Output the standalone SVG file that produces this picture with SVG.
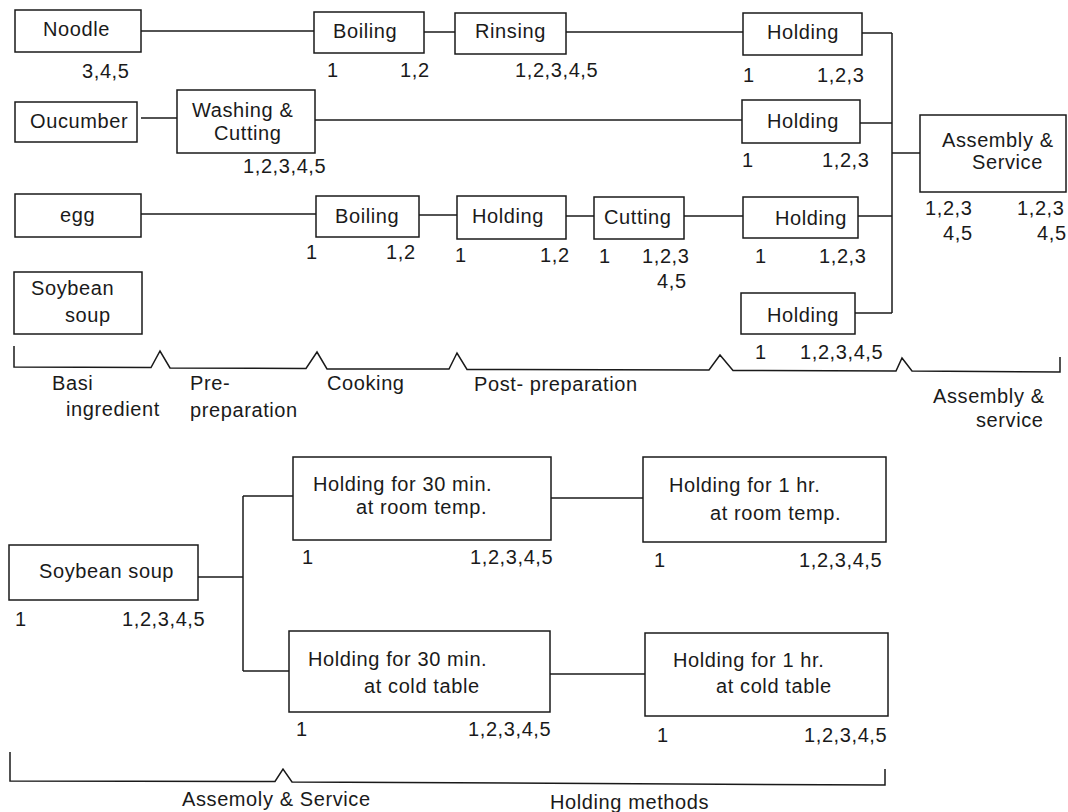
<svg xmlns="http://www.w3.org/2000/svg" width="1068" height="812" viewBox="0 0 1068 812">
<style>
  .box { fill: #ffffff; stroke: #1a1a1a; stroke-width: 1.5; }
  .c { fill: none; stroke: #1a1a1a; stroke-width: 1.5; }
  text { font-family: "Liberation Sans", Arial, Helvetica, sans-serif; font-size: 20px; fill: #1a1a1a; letter-spacing: 0.6px; }
</style>
<rect width="1068" height="812" fill="#ffffff"/>

<g id="connectors">
  <path class="c" d="M141,31 H314"/>
  <path class="c" d="M424,32 H455"/>
  <path class="c" d="M566,32 H743"/>
  <path class="c" d="M862,33 H892"/>
  <path class="c" d="M141,118 H177"/>
  <path class="c" d="M315,120 H742"/>
  <path class="c" d="M860,123 H892"/>
  <path class="c" d="M892,153 H920"/>
  <path class="c" d="M141,214 H316"/>
  <path class="c" d="M419,215 H457"/>
  <path class="c" d="M566,216 H594"/>
  <path class="c" d="M684,216 H743"/>
  <path class="c" d="M858,216 H892"/>
  <path class="c" d="M855,313 H892"/>
  <path class="c" d="M892,33 V313"/>
  <path class="c" d="M198,577 H243"/>
  <path class="c" d="M243,496 V671"/>
  <path class="c" d="M243,496 H293"/>
  <path class="c" d="M243,671 H289"/>
  <path class="c" d="M551,498 H643"/>
  <path class="c" d="M550,674 H645"/>
</g>

<g id="n-noodle">
  <rect class="box" x="15" y="10" width="126" height="42"/>
  <text x="43" y="36">Noodle</text>
  <text x="82" y="78">3,4,5</text>
</g>
<g id="n-boiling-noodle">
  <rect class="box" x="314" y="12" width="110" height="41"/>
  <text x="333" y="38">Boiling</text>
  <text x="327" y="77">1</text>
  <text x="400" y="77">1,2</text>
</g>
<g id="n-rinsing">
  <rect class="box" x="455" y="13" width="111" height="41"/>
  <text x="475" y="38">Rinsing</text>
  <text x="515" y="77">1,2,3,4,5</text>
</g>
<g id="n-holding-noodle">
  <rect class="box" x="743" y="13" width="119" height="42"/>
  <text x="767" y="39">Holding</text>
  <text x="743" y="82">1</text>
  <text x="817" y="82">1,2,3</text>
</g>
<g id="n-cucumber">
  <rect class="box" x="15" y="102" width="122" height="40"/>
  <text x="30" y="128">Oucumber</text>
</g>
<g id="n-washing">
  <rect class="box" x="177" y="90" width="138" height="63"/>
  <text x="192" y="117">Washing &amp;</text>
  <text x="214" y="140">Cutting</text>
  <text x="243" y="173">1,2,3,4,5</text>
</g>
<g id="n-holding-cucumber">
  <rect class="box" x="742" y="100" width="118" height="43"/>
  <text x="767" y="128">Holding</text>
  <text x="742" y="167">1</text>
  <text x="822" y="167">1,2,3</text>
</g>
<g id="n-assembly">
  <rect class="box" x="920" y="115" width="146" height="77"/>
  <text x="942" y="147">Assembly &amp;</text>
  <text x="972" y="169">Service</text>
  <text x="925" y="215">1,2,3</text>
  <text x="943" y="240">4,5</text>
  <text x="1017" y="215">1,2,3</text>
  <text x="1037" y="240">4,5</text>
</g>
<g id="n-egg">
  <rect class="box" x="15" y="194" width="126" height="43"/>
  <text x="60" y="222">egg</text>
</g>
<g id="n-boiling-egg">
  <rect class="box" x="316" y="196" width="103" height="41"/>
  <text x="335" y="223">Boiling</text>
  <text x="306" y="259">1</text>
  <text x="386" y="259">1,2</text>
</g>
<g id="n-holding-egg1">
  <rect class="box" x="457" y="196" width="109" height="43"/>
  <text x="472" y="223">Holding</text>
  <text x="455" y="262">1</text>
  <text x="540" y="262">1,2</text>
</g>
<g id="n-cutting-egg">
  <rect class="box" x="594" y="197" width="90" height="42"/>
  <text x="604" y="224">Cutting</text>
  <text x="599" y="263">1</text>
  <text x="642" y="263">1,2,3</text>
  <text x="657" y="288">4,5</text>
</g>
<g id="n-holding-egg2">
  <rect class="box" x="743" y="197" width="115" height="41"/>
  <text x="775" y="225">Holding</text>
  <text x="755" y="263">1</text>
  <text x="819" y="263">1,2,3</text>
</g>
<g id="n-soup">
  <rect class="box" x="14" y="272" width="128" height="62"/>
  <text x="31" y="295">Soybean</text>
  <text x="65" y="322">soup</text>
</g>
<g id="n-holding-soup">
  <rect class="box" x="741" y="293" width="114" height="41"/>
  <text x="767" y="322">Holding</text>
  <text x="755" y="359">1</text>
  <text x="800" y="359">1,2,3,4,5</text>
</g>

<g id="stages-top">
  <path class="c" d="M14,346 V367 L151,367.5 L160,351 L170,368 L306,368.5 L317,352 L327,369 L449,369 L457,353 L467,369.5 L709,370 L720,355 L733,370.5 L896,371 L902,358 L912,371 L1060,372 V357"/>
  <text x="52" y="390">Basi</text>
  <text x="66" y="416">ingredient</text>
  <text x="190" y="390">Pre-</text>
  <text x="190" y="417">preparation</text>
  <text x="327" y="390">Cooking</text>
  <text x="474" y="391">Post- preparation</text>
  <text x="933" y="403">Assembly &amp;</text>
  <text x="976" y="427">service</text>
</g>

<g id="n-soup2">
  <rect class="box" x="9" y="545" width="189" height="55"/>
  <text x="39" y="578">Soybean soup</text>
  <text x="15" y="626">1</text>
  <text x="122" y="626">1,2,3,4,5</text>
</g>
<g id="n-hold30-room">
  <rect class="box" x="293" y="457" width="258" height="83"/>
  <text x="313" y="491">Holding for 30 min.</text>
  <text x="356" y="514">at room temp.</text>
  <text x="302" y="564">1</text>
  <text x="470" y="564">1,2,3,4,5</text>
</g>
<g id="n-hold1h-room">
  <rect class="box" x="643" y="457" width="243" height="85"/>
  <text x="669" y="492">Holding for 1 hr.</text>
  <text x="710" y="520">at room temp.</text>
  <text x="654" y="567">1</text>
  <text x="799" y="567">1,2,3,4,5</text>
</g>
<g id="n-hold30-cold">
  <rect class="box" x="289" y="631" width="261" height="81"/>
  <text x="308" y="666">Holding for 30 min.</text>
  <text x="364" y="693">at cold table</text>
  <text x="296" y="736">1</text>
  <text x="468" y="736">1,2,3,4,5</text>
</g>
<g id="n-hold1h-cold">
  <rect class="box" x="645" y="633" width="243" height="83"/>
  <text x="673" y="667">Holding for 1 hr.</text>
  <text x="716" y="693">at cold table</text>
  <text x="657" y="742">1</text>
  <text x="804" y="742">1,2,3,4,5</text>
</g>

<g id="stages-bottom">
  <path class="c" d="M10,752 V781 L275,781.5 L283,769 L292,782 L885,785 V769"/>
  <text x="182" y="806">Assemoly &amp; Service</text>
  <text x="550" y="809">Holding methods</text>
</g>
</svg>
